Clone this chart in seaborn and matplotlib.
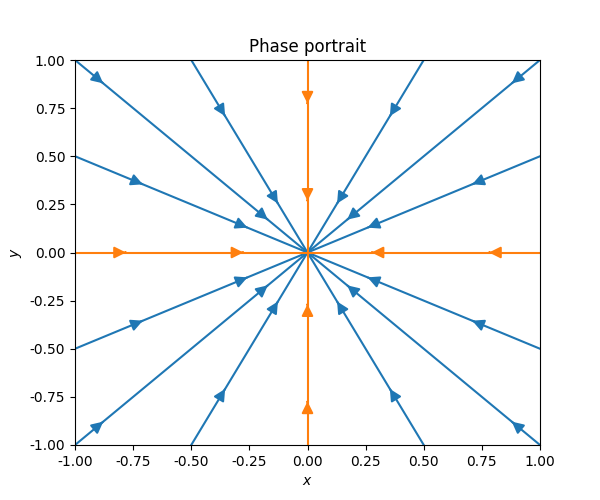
import numpy as np
import pandas as pd
import matplotlib
matplotlib.use("Agg")
import matplotlib.pyplot as plt
import seaborn as sns

# Data: straight-line trajectories y = m*x of a stable star node
slopes = [0.5, 1.0, 2.0, -0.5, -1.0, -2.0]
# arrow centre positions (|x|) along each half-trajectory, per |slope|
arrow_x = {0.5: [0.74, 0.29], 1.0: [0.905, 0.197], 2.0: [0.372, 0.145]}
# arrows on the axes (distance from origin)
axis_arrows = [0.815, 0.31]

blue = "#1f77b4"
orange = "#ff7f0e"

fig, ax = plt.subplots(figsize=(6, 5), dpi=100)
ax.set_xlim(-1, 1)
ax.set_ylim(-1, 1)

px_x = 0.775 * 600 / 2.0  # pixels per data unit in x
px_y = 0.77 * 500 / 2.0   # pixels per data unit in y


def add_arrow(p, color):
    p = np.asarray(p, dtype=float)
    d = -p / np.linalg.norm(p)  # towards origin
    dd = np.array([d[0] * px_x, d[1] * px_y])
    dd = dd / np.linalg.norm(dd)
    shift = 8.0
    tip = p + np.array([dd[0] * shift / px_x, dd[1] * shift / px_y])
    tail = tip - np.array([dd[0] * 0.5 / px_x, dd[1] * 0.5 / px_y])
    ax.annotate("", xy=tip, xytext=tail,
                arrowprops=dict(arrowstyle="-|>", mutation_scale=17,
                                color=color, lw=1.5, shrinkA=0, shrinkB=0))


for m in slopes:
    if abs(m) <= 1:
        xs = np.array([-1.0, 0.0, 1.0])
    else:
        xs = np.array([-1.0 / abs(m), 0.0, 1.0 / abs(m)])
    df = pd.DataFrame({"x": xs, "y": m * xs})
    sns.lineplot(data=df, x="x", y="y", color=blue, lw=1.5, ax=ax,
                 sort=False, estimator=None)
    for ax_ in arrow_x[abs(m)]:
        for s in (-1, 1):
            add_arrow((s * ax_, m * s * ax_), blue)

# axes trajectories
dfh = pd.DataFrame({"x": [-1.0, 1.0], "y": [0.0, 0.0]})
dfv = pd.DataFrame({"x": [0.0, 0.0], "y": [-1.0, 1.0]})
sns.lineplot(data=dfh, x="x", y="y", color=orange, lw=1.5, ax=ax,
             sort=False, estimator=None)
sns.lineplot(data=dfv, x="x", y="y", color=orange, lw=1.5, ax=ax,
             sort=False, estimator=None, orient="y")
for r in axis_arrows:
    for s in (-1, 1):
        add_arrow((s * r, 0.0), orange)
        add_arrow((0.0, s * r), orange)

ticks = [-1.0, -0.75, -0.5, -0.25, 0.0, 0.25, 0.5, 0.75, 1.0]
ax.set_xticks(ticks)
ax.set_yticks(ticks)
ax.set_xticklabels([f"{t:.2f}" for t in ticks])
ax.set_yticklabels([f"{t:.2f}" for t in ticks])
ax.set_xlim(-1, 1)
ax.set_ylim(-1, 1)
ax.set_xlabel("$x$")
ax.set_ylabel("$y$")
ax.set_title("Phase portrait")

fig.savefig("out.png", dpi=100)
